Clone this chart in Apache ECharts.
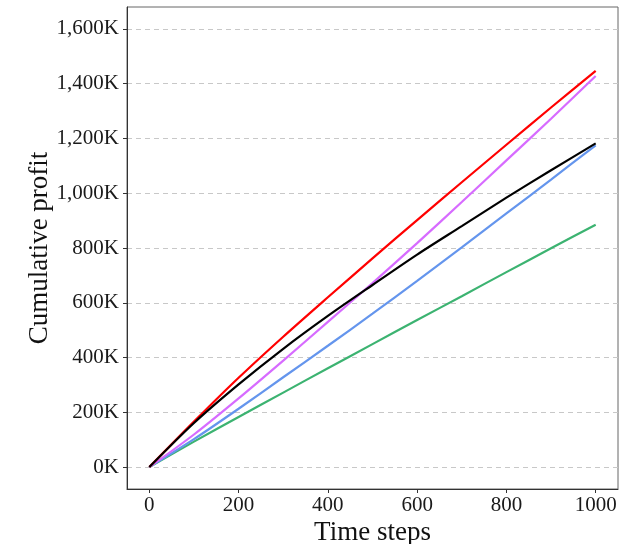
<!DOCTYPE html>
<html>
<head>
<meta charset="utf-8">
<script src="https://cdn.jsdelivr.net/npm/echarts@6/dist/echarts.min.js"></script>
<style>html,body{margin:0;padding:0;background:#fff}#c{width:620px;height:544px}</style>
</head>
<body>
<div id="c"></div>
<script>
// Time steps (x values)
var timeSteps = [0, 100, 200, 300, 400, 500, 600, 700, 800, 900, 1000];
// Cumulative profit in thousands (K)
var redSeries     = [0, 166, 326, 476, 620, 762, 902, 1040, 1177, 1313, 1447];
var magentaSeries = [0, 119, 251, 389, 530, 672, 818, 968, 1120, 1272, 1428];
var blackSeries   = [0, 161, 302, 432, 552, 665, 776, 880, 984, 1084, 1182];
var blueSeries    = [0, 102, 213, 328, 443, 560, 680, 802, 926, 1050, 1175];
var greenSeries   = [0, 93, 183, 272, 361, 449, 537, 624, 712, 799, 885];
var yTicks = [0, 200, 400, 600, 800, 1000, 1200, 1400, 1600];
var xTicks = [0, 200, 400, 600, 800, 1000];

function pairs(ys) { return timeSteps.map(function (x, i) { return [x, ys[i]]; }); }
var FONT = 'Liberation Serif';
function mk(name, data, color) {
  return { name: name, type: 'line', data: pairs(data), showSymbol: false, smooth: 0.3,
    lineStyle: { color: color, width: 2.2 }, itemStyle: { color: color }, animation: false };
}
var chart = echarts.init(document.getElementById('c'), null, { renderer: 'canvas' });
chart.setOption({
  animation: false,
  grid: { left: 127, right: 2, top: 7, bottom: 55, show: true, borderColor: '#666', borderWidth: 1,
    backgroundColor: '#fff', containLabel: false, outerBoundsMode: 'none' },
  xAxis: {
    type: 'value', min: -50, max: 1050,
    name: 'Time steps', nameLocation: 'middle', nameGap: 30, nameMoveOverlap: false,
    nameTextStyle: { fontFamily: FONT, fontSize: 27, color: '#111' },
    axisLine: { show: true, onZero: false, lineStyle: { color: '#333', width: 1 } },
    axisTick: { show: true, length: 4, lineStyle: { color: '#333' }, customValues: xTicks },
    axisLabel: { fontFamily: FONT, fontSize: 21, color: '#1a1a1a', margin: 6, customValues: xTicks,
      formatter: function (v) { return String(Math.round(v)); } },
    splitLine: { show: false }
  },
  yAxis: {
    type: 'value', min: -80, max: 1680,
    name: 'Cumulative profit', nameLocation: 'middle', nameGap: 74, nameRotate: 90, nameMoveOverlap: false,
    nameTextStyle: { fontFamily: FONT, fontSize: 27, color: '#111' },
    axisLine: { show: true, onZero: false, lineStyle: { color: '#333', width: 1 } },
    axisTick: { show: true, length: 4, lineStyle: { color: '#333' }, customValues: yTicks },
    axisLabel: { fontFamily: FONT, fontSize: 21, color: '#1a1a1a', margin: 8, customValues: yTicks,
      formatter: function (v) { return Math.round(v).toLocaleString('en-US') + 'K'; } },
    splitLine: { show: true, lineStyle: { color: '#c8c8c8', type: [5, 4], width: 1 } }
  },
  series: [
    mk('Green', greenSeries, '#3CB371'),
    mk('Blue', blueSeries, '#6495ED'),
    mk('Magenta', magentaSeries, '#D76BFF'),
    mk('Red', redSeries, '#FF0000'),
    mk('Black', blackSeries, '#000000')
  ]
});
</script>
</body>
</html>
